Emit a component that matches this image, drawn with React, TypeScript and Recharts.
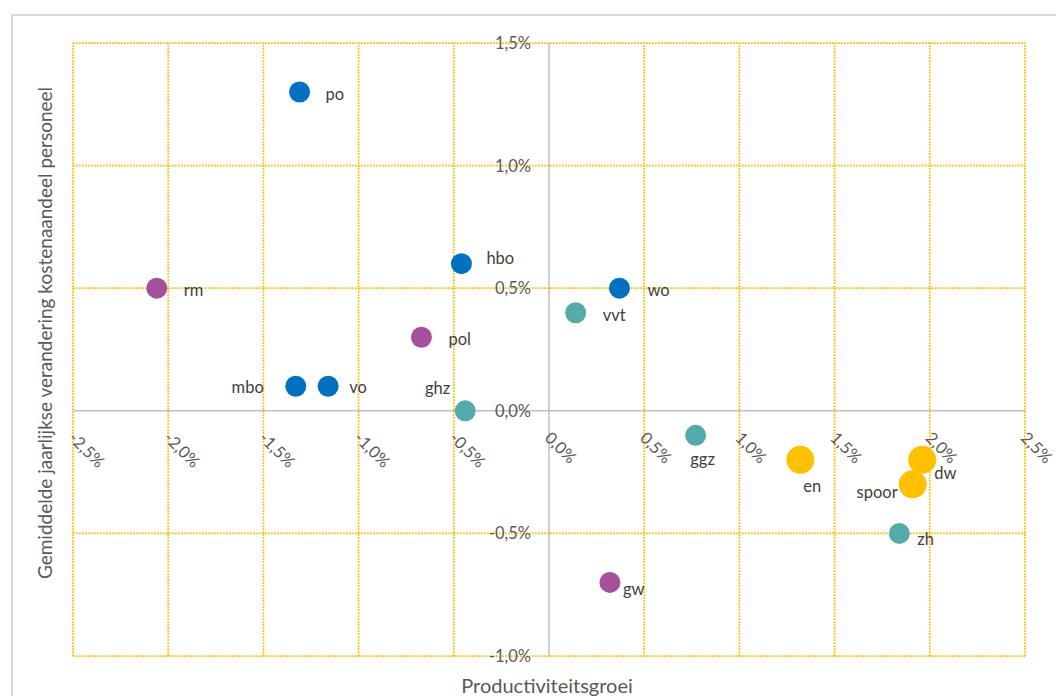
import React from 'react';
import { ScatterChart, Scatter, XAxis, YAxis, ReferenceLine } from 'recharts';

// ---- data ----
const xTicks = [-2.5, -2.0, -1.5, -1.0, -0.5, 0, 0.5, 1.0, 1.5, 2.0, 2.5];
const yTicks = [-1.0, -0.5, 0, 0.5, 1.0, 1.5];

const blueNames = ['po', 'hbo', 'wo', 'mbo', 'vo'];
const blueX = [-1.31, -0.46, 0.37, -1.33, -1.16];
const blueY = [1.3, 0.6, 0.5, 0.1, 0.1];

const purpleNames = ['rm', 'pol', 'gw'];
const purpleX = [-2.06, -0.67, 0.32];
const purpleY = [0.5, 0.3, -0.7];

const tealNames = ['vvt', 'ghz', 'ggz', 'zh'];
const tealX = [0.14, -0.44, 0.77, 1.84];
const tealY = [0.4, 0.0, -0.1, -0.5];

const goldNames = ['en', 'spoor', 'dw'];
const goldX = [1.32, 1.91, 1.96];
const goldY = [-0.2, -0.3, -0.2];

const xTitle = 'Productiviteitsgroei';
const yTitle = 'Gemiddelde jaarlijkse verandering kostenaandeel personeel';

// ---- label placement (style) ----
const labelPlacement: Record<string, { dx: number; dy: number; anchor: string }> = {
  po: { dx: 26, dy: 2, anchor: 'start' },
  hbo: { dx: 25, dy: -6, anchor: 'start' },
  wo: { dx: 28, dy: 2, anchor: 'start' },
  mbo: { dx: -32, dy: 1, anchor: 'end' },
  vo: { dx: 21, dy: 1, anchor: 'start' },
  rm: { dx: 27, dy: 2, anchor: 'start' },
  pol: { dx: 27, dy: 2, anchor: 'start' },
  gw: { dx: 13, dy: 7, anchor: 'start' },
  vvt: { dx: 27, dy: 2, anchor: 'start' },
  ghz: { dx: -15, dy: -23, anchor: 'end' },
  ggz: { dx: 7, dy: 24, anchor: 'middle' },
  zh: { dx: 18, dy: 6, anchor: 'start' },
  en: { dx: 12, dy: 26, anchor: 'middle' },
  spoor: { dx: -15, dy: 8, anchor: 'end' },
  dw: { dx: 12, dy: 13, anchor: 'start' },
};

const build = (names: string[], xs: number[], ys: number[]) =>
  names.map((n, i) => ({ name: n, x: xs[i], y: ys[i] }));

const blueData = build(blueNames, blueX, blueY);
const purpleData = build(purpleNames, purpleX, purpleY);
const tealData = build(tealNames, tealX, tealY);
const goldData = build(goldNames, goldX, goldY);

const xTickData = xTicks.map((t) => ({ x: t, y: 0 }));
const yTickData = yTicks.map((t) => ({ x: 0, y: t }));

const FONT = 'Lato, "Open Sans", sans-serif';
const GRID = '#FFC000';
const AXIS = '#BFBFBF';
const TXT = '#595959';
const LBL = '#404040';

const fmt = (v: number) => v.toFixed(1).replace('.', ',') + '%';

const makeShape = (color: string, r: number) => (p: any) => {
  const pl = labelPlacement[p.payload.name] || { dx: 20, dy: 0, anchor: 'start' };
  return (
    <g>
      <circle cx={p.cx} cy={p.cy} r={r} fill={color} />
      <text
        x={p.cx + pl.dx}
        y={p.cy + pl.dy}
        textAnchor={pl.anchor as any}
        dominantBaseline="central"
        fontSize={16.5}
        fontFamily={FONT}
        fill={LBL}
      >
        {p.payload.name}
      </text>
    </g>
  );
};

const xTickShape = (p: any) => (
  <text
    transform={`translate(${p.cx - 1},${p.cy + 24}) rotate(45)`}
    textAnchor="start"
    dominantBaseline="central"
    fontSize={16.5}
    fontFamily={FONT}
    fill={TXT}
  >
    {fmt(p.payload.x)}
  </text>
);

const yTickShape = (p: any) => (
  <text
    x={p.cx - 18}
    y={p.cy}
    textAnchor="end"
    dominantBaseline="central"
    fontSize={16.5}
    fontFamily={FONT}
    fill={TXT}
  >
    {fmt(p.payload.y)}
  </text>
);

export default function App() {
  return (
    <div style={{ position: 'absolute', left: 0, top: 0, width: 1056, height: 696, overflow: 'hidden', background: '#fff' }}>
      <div
        style={{
          position: 'absolute',
          left: 11,
          top: 14,
          width: 1100,
          height: 800,
          border: '2px solid #D9D9D9',
        }}
      />
      <div style={{ position: 'absolute', left: 0, top: 0 }}>
        <ScatterChart width={1056} height={696} margin={{ top: 43, right: 31, bottom: 40, left: 73 }}>
          <XAxis type="number" dataKey="x" domain={[-2.5, 2.5]} hide />
          <YAxis type="number" dataKey="y" domain={[-1, 1.5]} hide />
          {xTicks.filter((t) => t !== 0).map((t) => (
            <ReferenceLine key={'gx' + t} x={t} stroke={GRID} strokeWidth={1.75} strokeDasharray="1.75 1.25" />
          ))}
          {yTicks.filter((t) => t !== 0).map((t) => (
            <ReferenceLine key={'gy' + t} y={t} stroke={GRID} strokeWidth={1.75} strokeDasharray="1.75 1.25" />
          ))}
          <ReferenceLine x={0} stroke={AXIS} strokeWidth={1.5} />
          <ReferenceLine y={0} stroke={AXIS} strokeWidth={1.5} />
          <Scatter data={xTickData} shape={xTickShape} isAnimationActive={false} />
          <Scatter data={yTickData} shape={yTickShape} isAnimationActive={false} />
          <Scatter data={blueData} fill="#0070C0" shape={makeShape('#0070C0', 10.5)} isAnimationActive={false} />
          <Scatter data={purpleData} fill="#A5509C" shape={makeShape('#A5509C', 10.5)} isAnimationActive={false} />
          <Scatter data={tealData} fill="#55AAAA" shape={makeShape('#55AAAA', 10.5)} isAnimationActive={false} />
          <Scatter data={goldData} fill="#FFC000" shape={makeShape('#FFC000', 14)} isAnimationActive={false} />
        </ScatterChart>
      </div>
      <div
        style={{
          position: 'absolute',
          left: 547,
          top: 685,
          transform: 'translate(-50%, -50%)',
          whiteSpace: 'nowrap',
          fontFamily: FONT,
          fontSize: 20,
          color: TXT,
        }}
      >
        {xTitle}
      </div>
      <div
        style={{
          position: 'absolute',
          left: 44,
          top: 333,
          transform: 'translate(-50%, -50%) rotate(-90deg)',
          whiteSpace: 'nowrap',
          fontFamily: FONT,
          fontSize: 19,
          color: TXT,
        }}
      >
        {yTitle}
      </div>
    </div>
  );
}
